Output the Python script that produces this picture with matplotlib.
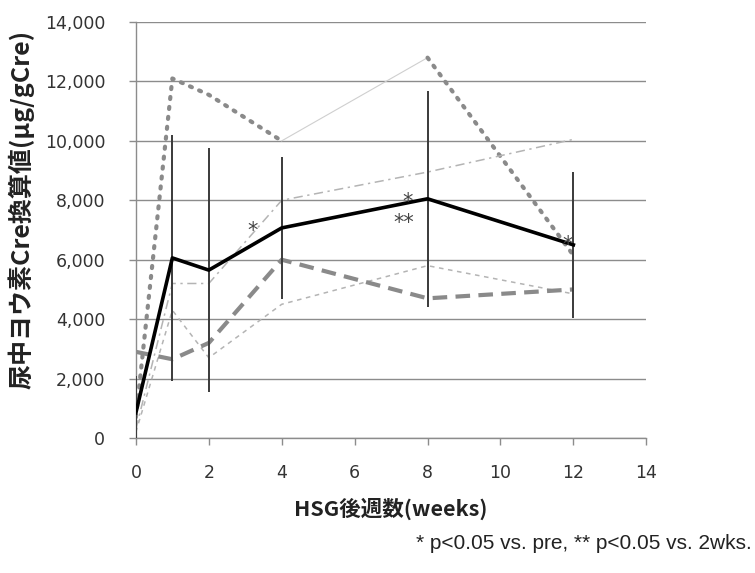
import numpy as np
import matplotlib.pyplot as plt

plt.rcParams['font.family'] = ['DejaVu Sans', 'Noto Sans CJK JP']

# -----------------------
# Data
# -----------------------
weeks = [0, 1, 2, 4, 8, 12]
mean_vals = [850, 6060, 5650, 7070, 8050, 6500]
mean_err = [1250, 4150, 4100, 2380, 3630, 2450]

case_dotted = [700, 12100, 11550, 10000, 12800, 6150]
case_dashdot = [300, 5200, 5200, 8000, 8950, 10050]
case_thick_dash = [2900, 2650, 3200, 6000, 4700, 5000]
case_thin_dash = [200, 4300, 2700, 4500, 5800, 4850]

yticks = [0, 2000, 4000, 6000, 8000, 10000, 12000, 14000]
xticks = [0, 2, 4, 6, 8, 10, 12, 14]

# significance marks: (x, y, text)
marks = [(3.2, 6950, '*'), (7.45, 7950, '*'), (7.35, 7250, '**'), (11.85, 6500, '*')]

# -----------------------
# Plot
# -----------------------
fig = plt.figure(figsize=(7.55, 5.73), dpi=100)
ax = fig.add_axes([0.180, 0.2356, 0.676, 0.726])

ax.set_axisbelow(True)
ax.yaxis.grid(True, color='#8c8c8c', lw=1.0)

light = '#b4b4b4'
mid = '#8a8a8a'

# individual cases
ax.plot(weeks[:4], case_dotted[:4], ls=(0, (0.5, 1.9)), lw=3, color=mid,
        dash_capstyle='round')
ax.plot(weeks[3:5], case_dotted[3:5], ls='-', lw=0.8, color='#cfcfcf')
ax.plot(weeks[4:], case_dotted[4:], ls=(0, (0.5, 1.9)), lw=3, color=mid,
        dash_capstyle='round')
ax.plot(weeks, case_dashdot, ls=(0, (6, 3, 1.5, 3)), lw=1.1, color=light)
ax.plot(weeks, case_thin_dash, ls=(0, (3, 3)), lw=1.1, color=light)
ax.plot(weeks, case_thick_dash, ls=(0, (3.5, 2)), lw=3, color=mid)

# mean with SD bars
ax.errorbar(weeks, mean_vals, yerr=mean_err, color='black', lw=2.6,
            ecolor='#3a3a3a', elinewidth=1.4, capsize=0, zorder=5)

for x, y, t in marks:
    ax.text(x, y, t, fontsize=15, color='#444444', ha='center', va='center',
            zorder=6)

ax.set_xlim(0, 14)
ax.set_ylim(0, 14000)
ax.set_xticks(xticks)
ax.set_yticks(yticks)
ax.set_yticklabels([f'{v:,}' for v in yticks])
ax.tick_params(axis='both', labelsize=12.5, colors='#8c8c8c', labelcolor='#333333',
               length=5, width=1)
ax.tick_params(axis='x', pad=14)
ax.tick_params(axis='y', pad=17)

for s in ['top', 'right']:
    ax.spines[s].set_visible(False)
for s in ['left', 'bottom']:
    ax.spines[s].set_color('#8c8c8c')
    ax.spines[s].set_linewidth(1.0)

ax.set_xlabel('HSG後週数(weeks)', fontsize=15.5, fontweight='bold',
              family=['Noto Sans CJK JP'], color='#222222', labelpad=11)
ax.set_ylabel('尿中ヨウ素Cre換算値(μg/gCre)', fontsize=18, fontweight='bold',
              family=['Noto Sans CJK JP'], color='#222222')
ax.yaxis.set_label_coords(-0.198, 0.55)

fig.text(0.996, 0.052, '* p<0.05 vs. pre, ** p<0.05 vs. 2wks.', ha='right',
         va='center', fontsize=15, family=['Liberation Sans'], color='#222222')

fig.savefig('out.png', dpi=100)
